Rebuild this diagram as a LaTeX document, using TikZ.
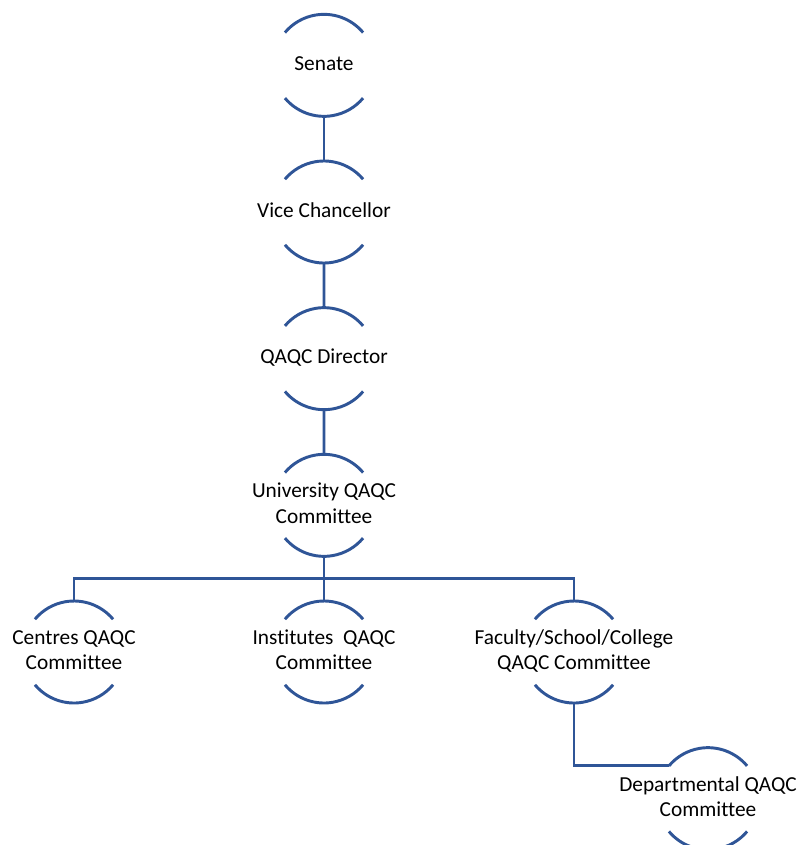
\documentclass[tikz,border=0pt]{standalone}
\usepackage{fontspec}
\setmainfont{Carlito}[Ligatures=NoCommon]
\definecolor{archblue}{RGB}{47,85,151}
\newcommand\archtext[1]{\makebox[0pt]{\begin{tabular}{@{}c@{}}#1\end{tabular}}}

\begin{document}
\begin{tikzpicture}[level distance=110pt,
arch/.style = {circle, minimum size=76.5pt, inner sep=0pt, outer sep=0pt,
  font=\fontsize{16pt}{19pt}\selectfont},
archline/.style = {draw=archblue, line width=2.2pt},
every node/.style = {arch},
edge from parent/.style = {archline, draw},
level 4/.style = {sibling distance=187.5pt,
  edge from parent path={(\tikzparentnode.south) -- ++(0,-16.5pt) -| (\tikzchildnode.north)}},
level 5/.style = {edge from parent path={(\tikzparentnode.south) |- (\tikzchildnode.140)}}]
\useasboundingbox (0,0) rectangle (600pt,-633.75pt);
\node (senate) at (243pt,-49pt) {\archtext{Senate}}
   child {node (vc) {\archtext{Vice Chancellor}}
     child {node (director) {\archtext{QAQC Director}}
       child {node (univ) {\archtext{University QAQC\\Committee}}
         child {node (centres) {\archtext{Centres QAQC\\Committee}}}
         child {node (institutes) {\archtext{Institutes\ \ QAQC\\Committee}}}
         child {node (faculty) {\archtext{Faculty/School/College\\QAQC Committee}}
           child[xshift=100.5pt] {node (dept) {\archtext{Departmental QAQC\\Committee}}}
           }
         }
       }
     };
\foreach \n in {senate,vc,director,univ,centres,institutes,faculty,dept} {
  \draw[archline] (\n.40) arc[start angle=40, end angle=140, radius=38.25pt];
  \draw[archline] (\n.220) arc[start angle=220, end angle=320, radius=38.25pt];
}
\end{tikzpicture}
\end{document}
